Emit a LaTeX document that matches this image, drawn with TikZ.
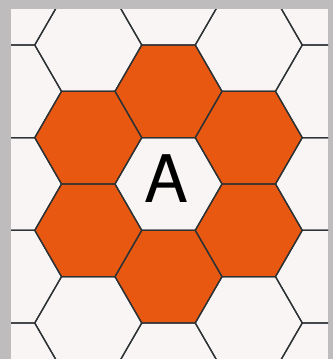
\documentclass[tikz,border=0pt]{standalone}
\usepackage{fontspec}
\newfontfamily\letterfont{TeX Gyre Heros}
\definecolor{framegray}{RGB}{190,188,188}
\definecolor{paperwhite}{RGB}{250,245,245}
\definecolor{hexorange}{RGB}{232,88,16}
\definecolor{gridink}{RGB}{45,50,52}
\tikzset{
  hexcell/.pic={\path[pic actions] (0:53.5) -- (60:53.5) -- (120:53.5) -- (180:53.5) -- (240:53.5) -- (300:53.5) -- cycle;},
  gridline/.style={draw=gridink,line width=1.1pt,line join=round},
  petal/.style={fill=hexorange},
}

\begin{document}
\begin{tikzpicture}[x=0.03cm,y=-0.03cm]
\useasboundingbox[fill=framegray] (0,0) rectangle (333,359);
\fill[paperwhite] (11,9) rectangle (328,359);
\coordinate (cA) at (168.5,184);
\begin{scope}
\clip (11,9) rectangle (328,359);
% ring of orange cells round A
\foreach \a in {30,90,...,330}
  \pic[petal] at ([shift={(\a:92.66)}]cA) {hexcell};
% the hex grid
\foreach \i/\off in {-2/0,-1/46.33,0/0,1/46.33,2/0}
  \foreach \j in {-3,...,2}
    \pic[gridline] at ({80.25*\i+168.5},{92.66*\j+184+\off}) {hexcell};
\end{scope}
\node[font=\letterfont\fontsize{56}{60}\selectfont,inner sep=0pt] (letterA) at (166,178.5) {A};
\end{tikzpicture}
\end{document}
